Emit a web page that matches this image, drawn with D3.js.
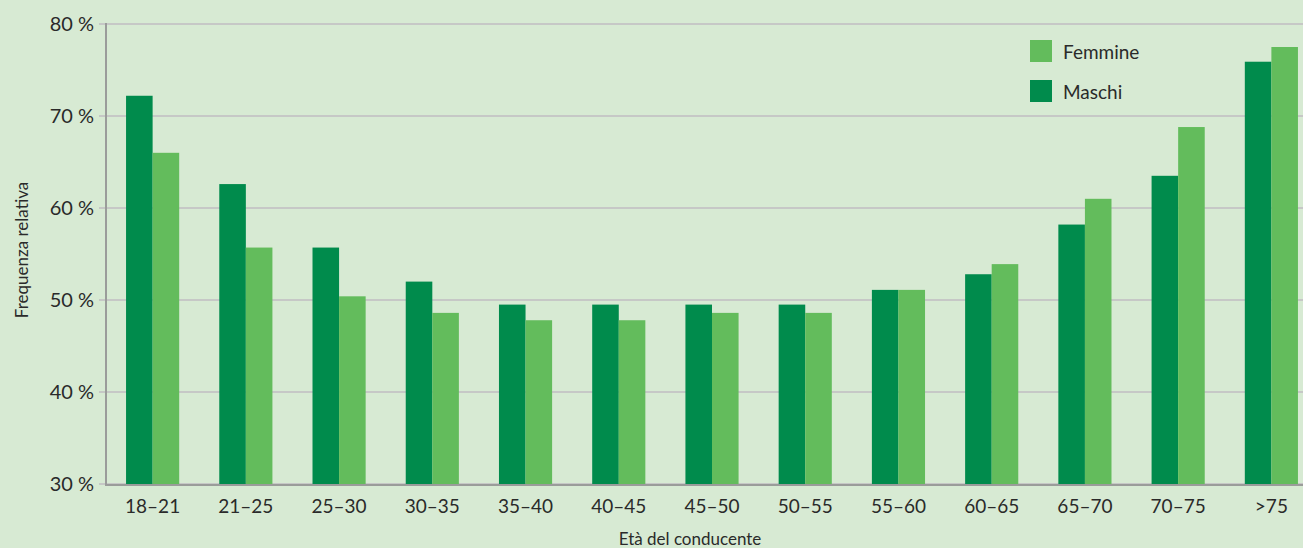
<!DOCTYPE html>
<html>
<head>
<meta charset="utf-8">
<script src="https://cdn.jsdelivr.net/npm/d3@7"></script>
<style>
  body { margin: 0; background: #d7ead3; overflow: hidden; }
  svg { display: block; font-family: Lato, "Open Sans", sans-serif; }
</style>
</head>
<body>
<svg></svg>
<script>
var categories = ["18–21", "21–25", "25–30", "30–35", "35–40", "40–45", "45–50", "50–55", "55–60", "60–65", "65–70", "70–75", ">75"];
var maschi = [72.2, 62.6, 55.7, 52.0, 49.5, 49.5, 49.5, 49.5, 51.1, 52.8, 58.2, 63.5, 75.9];
var femmine = [66.0, 55.7, 50.4, 48.6, 47.8, 47.8, 48.6, 48.6, 51.1, 53.9, 61.0, 68.8, 77.5];
var yTicks = [30, 40, 50, 60, 70, 80];

var svg = d3.select("svg"),
    width = 1303,
    height = 548;

svg.attr("width", width).attr("height", height);

var x = d3.scaleBand()
    .domain(categories)
    .range([106, 1318])
    .paddingInner(0.43)
    .paddingOuter(0.215);

var y = d3.scaleLinear().domain([30, 80]).range([484, 24]);

// gridlines
svg.append("g").selectAll("line")
    .data(yTicks)
    .join("line")
    .attr("x1", 99)
    .attr("x2", width)
    .attr("y1", d => y(d))
    .attr("y2", d => y(d))
    .attr("stroke", "#c6c8c6")
    .attr("stroke-width", 2);

// y labels
svg.append("g").selectAll("text")
    .data(yTicks)
    .join("text")
    .attr("x", 94)
    .attr("y", d => y(d) + 7)
    .attr("text-anchor", "end")
    .attr("font-size", 20)
    .attr("fill", "#2a2a2a")
    .text(d => d + " %");

var bw = x.bandwidth() / 2;

svg.append("g").selectAll("rect")
    .data(maschi)
    .join("rect")
    .attr("x", (d, i) => x(categories[i]))
    .attr("y", d => y(d))
    .attr("width", bw)
    .attr("height", d => y(30) - y(d))
    .attr("fill", "#008b4c");

svg.append("g").selectAll("rect")
    .data(femmine)
    .join("rect")
    .attr("x", (d, i) => x(categories[i]) + bw)
    .attr("y", d => y(d))
    .attr("width", bw)
    .attr("height", d => y(30) - y(d))
    .attr("fill", "#63bc5c");

// axes lines
svg.append("line")
    .attr("x1", 106).attr("x2", 106)
    .attr("y1", 23).attr("y2", 485)
    .attr("stroke", "#9a9c9a").attr("stroke-width", 2);
svg.append("line")
    .attr("x1", 105).attr("x2", width)
    .attr("y1", 485).attr("y2", 485)
    .attr("stroke", "#9a9c9a").attr("stroke-width", 2);

// x labels
svg.append("g").selectAll("text")
    .data(categories)
    .join("text")
    .attr("x", d => x(d) + x.bandwidth() / 2)
    .attr("y", 513)
    .attr("text-anchor", "middle")
    .attr("font-size", 19)
    .attr("fill", "#2a2a2a")
    .text(d => d);

svg.append("text")
    .attr("x", 690)
    .attr("y", 545)
    .attr("text-anchor", "middle")
    .attr("font-size", 17)
    .attr("fill", "#2a2a2a")
    .text("Età del conducente");

svg.append("text")
    .attr("transform", "translate(28,250) rotate(-90)")
    .attr("text-anchor", "middle")
    .attr("font-size", 17)
    .attr("fill", "#2a2a2a")
    .text("Frequenza relativa");

// legend
var legend = [["Femmine", "#63bc5c"], ["Maschi", "#008b4c"]];
var lg = svg.append("g").selectAll("g")
    .data(legend)
    .join("g")
    .attr("transform", (d, i) => "translate(1030," + (40 + i * 40) + ")");
lg.append("rect")
    .attr("width", 22).attr("height", 22)
    .attr("fill", d => d[1]);
lg.append("text")
    .attr("x", 33).attr("y", 19)
    .attr("font-size", 19)
    .attr("fill", "#2a2a2a")
    .text(d => d[0]);
</script>
</body>
</html>
